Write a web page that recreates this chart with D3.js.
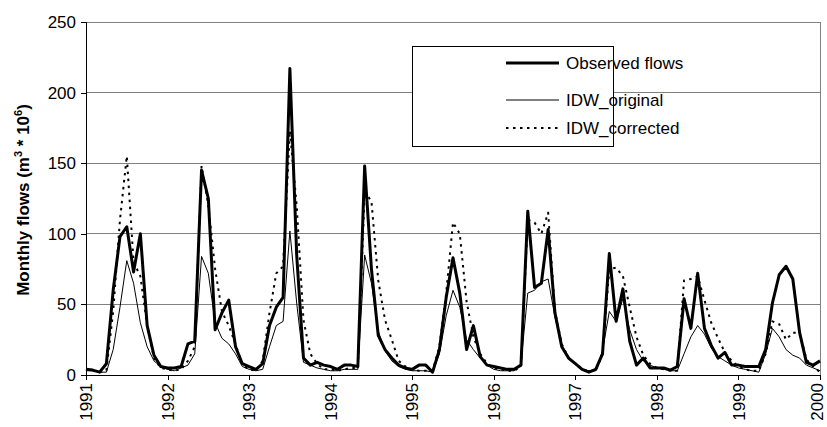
<!DOCTYPE html>
<html><head><meta charset="utf-8">
<script src="https://cdn.jsdelivr.net/npm/d3@7"></script>
<style>
body{margin:0;background:#fff;}
svg{display:block;font-family:"Liberation Sans",Arial,sans-serif;}
</style></head>
<body><svg id="c" width="827" height="427"></svg>
<script>
const yearLabels = ["1991","1992","1993","1994","1995","1996","1997","1998","1999","2000"];
const yTicks = [0,50,100,150,200,250];
const seriesNames = ["Observed flows","IDW_original","IDW_corrected"];
const observed = [
 4,3.5,2,8,60,98,105,73,100,35,14,6,
 5,5,6,22,24,145,125,32,44,53,20,8,
 6,4,8,35,48,55,217,85,12,7,9,7,
 6,4,7,7,6,148,75,28,18,12,7,5,
 4,7,7,2,18,55,83,58,18,35,13,7,
 6,5,4,4,7,116,62,65,103,44,20,12,
 8,4,2,4,15,86,38,61,24,7,12,5,
 5,5,3.5,6,54,33,72,33,21,12,16,7,
 7,6,6,6,18,51,71,77,68,30,9,7,10];
const idwOriginal = [
 3,3,2,2,18,48,81,65,37,20,10,6,
 4,3,5,7,15,84,72,37,26,22,15,6,
 4,3,4,20,35,38,102,51,9,7,5,4,
 3,3,4,4,4,85,65,31,17,10,6,4,
 3,3,3,2,15,42,60,48,25,18,12,7,
 4,3,3,3,8,58,60,66,68,41,21,13,
 8,4,3,3,17,45,38,54,32,18,10,7,
 5,4,3,3,15,27,35,29,19,13,10,7,
 5,4,3,2,15,33,27,18,14,12,7,5,3];
const idwCorrected = [
 4,3,2,3,45,110,155,80,70,35,12,5,
 4,3,4,10,20,148,120,75,45,35,22,7,
 4,3,10,44,72,77,173,120,39,15,8,4,
 4,3,4,5,5,130,123,67,39,25,10,6,
 4,3,3,3,20,58,108,100,52,27,15,8,
 5,4,3,3,6,110,108,100,115,45,22,12,
 8,4,3,3,15,75,76,70,48,27,14,8,
 5,4,3,3,67,68,70,53,37,26,16,10,
 6,4,3,3,15,38,36,25,30,30,11,6,2];

const FF = "'Liberation Sans',Arial,sans-serif";
const svg = d3.select("#c");
const L=86, R=820, T=22, B=375;
const x = d3.scaleLinear().domain([0,108]).range([L,R]);
const y = d3.scaleLinear().domain([0,250]).range([B,T]);

// gridlines
svg.append("g").selectAll("line").data(yTicks.filter(d=>d>0)).join("line")
  .attr("x1",L).attr("x2",R).attr("y1",d=>y(d)).attr("y2",d=>y(d))
  .attr("stroke","#808080").attr("stroke-width",1).attr("shape-rendering","crispEdges");
svg.append("line").attr("x1",R).attr("x2",R).attr("y1",T).attr("y2",B)
  .attr("stroke","#808080").attr("shape-rendering","crispEdges");

// y axis
const ya = svg.append("g").attr("transform",`translate(${L},0)`)
  .call(d3.axisLeft(y).tickValues(yTicks).tickSize(5).tickPadding(5).tickFormat(d3.format("d")));
ya.select(".domain").attr("stroke","#000").attr("shape-rendering","crispEdges");
ya.selectAll(".tick line").attr("stroke","#000").attr("shape-rendering","crispEdges");
ya.selectAll("text").attr("font-size","17px").attr("fill","#000").attr("font-family",FF);

// x axis
const xa = svg.append("g").attr("transform",`translate(0,${B})`)
  .call(d3.axisBottom(x).tickValues(d3.range(0,109,12)).tickSize(5).tickSizeOuter(0)
    .tickFormat((d,i)=>yearLabels[i]));
xa.select(".domain").attr("stroke","#000").attr("shape-rendering","crispEdges");
xa.selectAll(".tick line").attr("stroke","#000").attr("shape-rendering","crispEdges");
xa.selectAll("text").attr("font-size","17px").attr("fill","#000")
  .attr("font-family",FF)
  .attr("text-anchor","end").attr("transform","rotate(-90)")
  .attr("x",-8).attr("y",0)
  .attr("dy",(d,i,n)=> i===n.length-1 ? "0.15em" : "0.33em");

// y label
const yl = svg.append("text").attr("transform","translate(29,200) rotate(-90)")
  .attr("text-anchor","middle").attr("font-weight","bold").attr("font-size","17px")
  .attr("font-family",FF);
yl.append("tspan").text("Monthly flows (m");
yl.append("tspan").attr("font-size","11px").attr("dy","-7").text("3");
yl.append("tspan").attr("dy","7").text(" * 10");
yl.append("tspan").attr("font-size","11px").attr("dy","-7").text("6");
yl.append("tspan").attr("dy","7").text(")");

const line = d3.line().x((d,i)=>x(i)).y(d=>y(d));
const styles = [
  {data:observed, w:3, dash:null},
  {data:idwOriginal, w:1, dash:null},
  {data:idwCorrected, w:2, dash:"2.5,4.5"}
];
styles.forEach(s=>{
  svg.append("path").datum(s.data).attr("d",line).attr("fill","none")
    .attr("stroke","#000").attr("stroke-width",s.w)
    .attr("stroke-dasharray",s.dash).attr("stroke-linejoin","round");
});

// legend
const lg = svg.append("g");
lg.append("rect").attr("x",412).attr("y",46).attr("width",201).attr("height",100)
  .attr("fill","#fff").attr("stroke","#000").attr("shape-rendering","crispEdges");
const rowsY=[63,100,128];
styles.forEach((s,i)=>{
  lg.append("line").attr("x1",506).attr("x2",559).attr("y1",rowsY[i]).attr("y2",rowsY[i])
    .attr("stroke","#000").attr("stroke-width",s.w).attr("stroke-dasharray",s.dash);
  lg.append("text").attr("x",566).attr("y",rowsY[i]).attr("dy","0.35em")
    .attr("font-size","17px").attr("font-family",FF).text(seriesNames[i]);
});
</script></body></html>
